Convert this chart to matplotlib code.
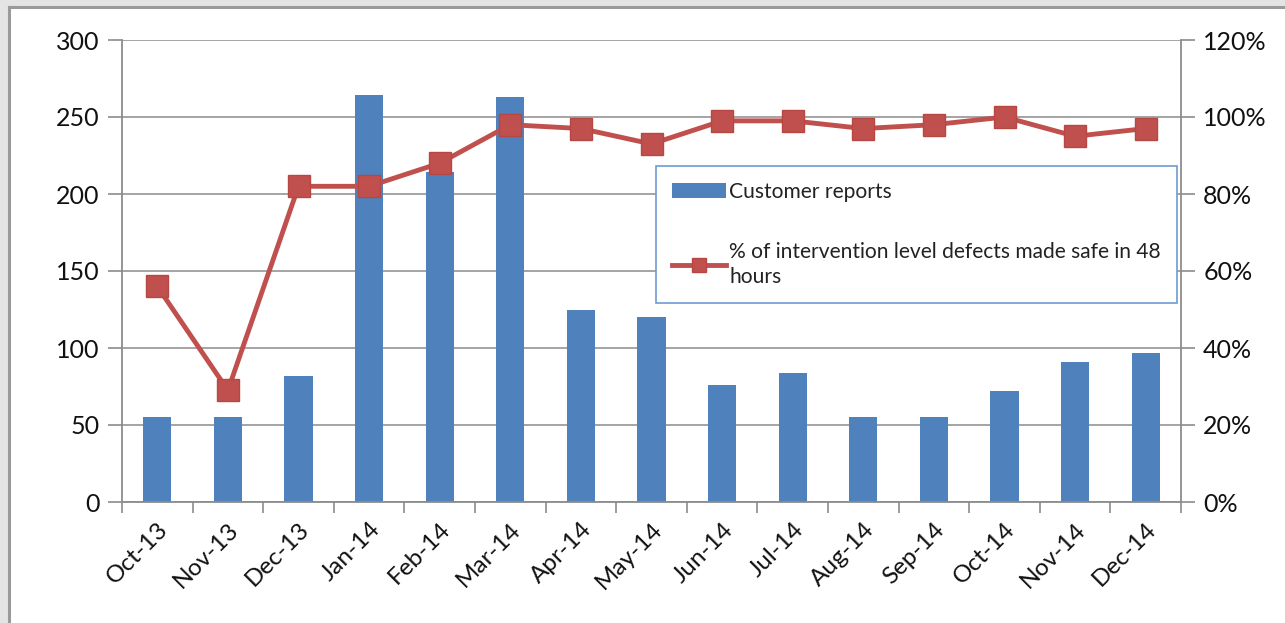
import matplotlib
matplotlib.use("Agg")
import matplotlib.pyplot as plt
from matplotlib.patches import Rectangle
from matplotlib.ticker import FuncFormatter, MultipleLocator
import numpy as np

months = ["Oct-13", "Nov-13", "Dec-13", "Jan-14", "Feb-14", "Mar-14", "Apr-14",
          "May-14", "Jun-14", "Jul-14", "Aug-14", "Sep-14", "Oct-14", "Nov-14", "Dec-14"]
customer_reports = [55, 55, 82, 264, 214, 263, 125, 120, 76, 84, 55, 55, 72, 91, 97]
pct_made_safe = [56, 29, 82, 82, 88, 98, 97, 93, 99, 99, 97, 98, 100, 95, 97]

bar_label = "Customer reports"
line_label = "% of intervention level defects made safe in 48\nhours"

plt.rcParams['font.family'] = ['Lato', 'DejaVu Sans']

W, H = 1285, 623
fig = plt.figure(figsize=(W / 100, H / 100), dpi=100)
fig.patch.set_facecolor("#e4e4e4")
# white chart area with gray frame
fig.add_artist(Rectangle((9 / W, 0), 1 - 9 / W, 1 - 8 / H, transform=fig.transFigure,
                         facecolor="white", edgecolor="none", zorder=-5))
fig.add_artist(plt.Line2D([9 / W, 9 / W], [0, 1 - 7 / H], transform=fig.transFigure,
                          color="#9a9a9a", lw=2.2, zorder=-4))
fig.add_artist(plt.Line2D([9 / W, 1], [1 - 7 / H, 1 - 7 / H], transform=fig.transFigure,
                          color="#9a9a9a", lw=2.2, zorder=-4))

left, right, top, bottom = 122, 1181, 40, 502
ax = fig.add_axes([left / W, 1 - bottom / H, (right - left) / W, (bottom - top) / H])
ax.set_facecolor("none")

x = np.arange(len(months))
grid_c = "#8c8c8c"
ax.bar(x, customer_reports, width=0.4, color="#4F81BD", zorder=2, label=bar_label)
ax.set_xlim(-0.5, len(months) - 0.5)
ax.set_ylim(0, 300)
ax.yaxis.set_major_locator(MultipleLocator(50))
ax.grid(axis="y", color=grid_c, lw=1.1, zorder=1)
ax.set_axisbelow(True)

for s in ["top", "right"]:
    ax.spines[s].set_visible(False)
for s in ["left", "bottom"]:
    ax.spines[s].set_color(grid_c)
    ax.spines[s].set_linewidth(1.3)

ax.set_xticks(x)
ax.set_xticklabels(months, rotation=45, ha="right", rotation_mode="anchor", fontsize=17.5,
                   color="#111111")
ax.set_xticks(np.arange(-0.5, len(months)), minor=True)
ax.tick_params(axis="x", which="major", length=0, pad=12)
ax.tick_params(axis="x", which="minor", length=8, color=grid_c, width=1.2, direction="out")
ax.tick_params(axis="y", length=10, color=grid_c, width=1.2, labelsize=18, pad=6,
               labelcolor="#111111")

ax2 = ax.twinx()
ax2.set_ylim(0, 120)
ax2.yaxis.set_major_locator(MultipleLocator(20))
ax2.yaxis.set_major_formatter(FuncFormatter(lambda v, p: f"{int(v)}%"))
for s in ["top", "left", "bottom"]:
    ax2.spines[s].set_visible(False)
ax2.spines["right"].set_color(grid_c)
ax2.spines["right"].set_linewidth(1.3)
ax2.tick_params(axis="y", length=10, color=grid_c, width=1.2, labelsize=18, pad=6,
                labelcolor="#111111")
ax2.plot(x, pct_made_safe, color="#C0504D", lw=3.5, marker="s", markersize=16.5,
         markerfacecolor="#C0504D", markeredgecolor="#B84743", zorder=5, label=line_label)

h1, l1 = ax.get_legend_handles_labels()
h2, l2 = ax2.get_legend_handles_labels()
leg = ax2.legend(h1 + h2, l1 + l2, loc="upper left",
                 bbox_to_anchor=((656 - left) / (right - left), (bottom - 166) / (bottom - top)),
                 borderaxespad=0, fontsize=15.1, frameon=True, fancybox=False, framealpha=1,
                 edgecolor="#6f9bd0", handlelength=2.6, handletextpad=0.15,
                 labelspacing=1.9, borderpad=0.75, markerscale=0.65)
leg.get_frame().set_linewidth(1.2)
for t in leg.get_texts():
    t.set_color("#222222")
    t.set_linespacing(1.35)

fig.savefig("out.png", dpi=100, facecolor=fig.get_facecolor())
